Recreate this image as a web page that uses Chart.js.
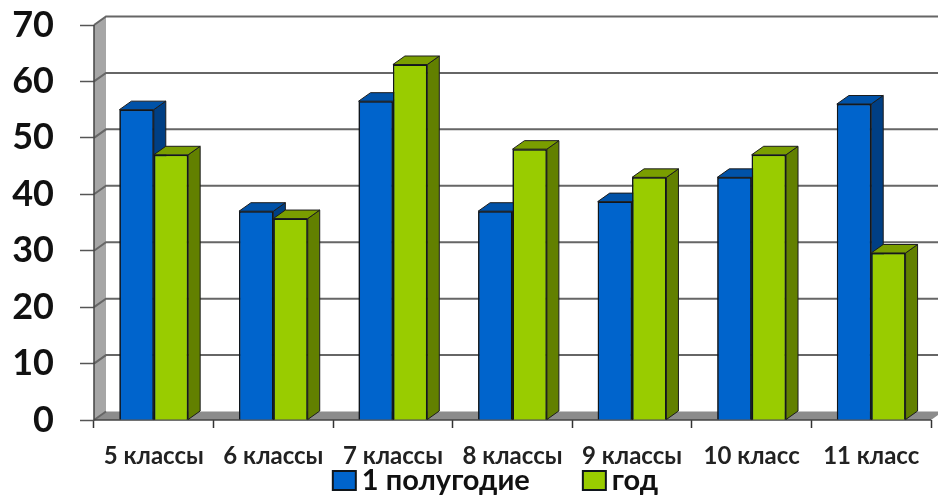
<!DOCTYPE html>
<html>
<head>
<meta charset="utf-8">
<style>
  html, body { margin: 0; padding: 0; background: #fff; }
  #wrap { width: 938px; height: 495px; }
</style>
<script src="https://cdn.jsdelivr.net/npm/chart.js@4"></script>
</head>
<body>
<div id="wrap"><canvas id="chart" width="938" height="495"></canvas></div>
<script>
const categories = ['5 классы', '6 классы', '7 классы', '8 классы', '9 классы', '10 класс', '11 класс'];
const halfYear = [55, 37, 56.5, 37, 38.7, 43, 56];
const fullYear = [47, 35.7, 63, 48, 43, 47, 29.6];
const yTicks = [0, 10, 20, 30, 40, 50, 60, 70];

// depth of the fake 3d box
const DX = 12;
const DY = 8.5;
const LEGEND_GAP = 53;

function poly(ctx, pts, fill, stroke) {
    ctx.beginPath();
    pts.forEach((p, i) => i ? ctx.lineTo(p[0], p[1]) : ctx.moveTo(p[0], p[1]));
    ctx.closePath();
    ctx.fillStyle = fill;
    ctx.fill();
    if (stroke) {
        ctx.strokeStyle = stroke;
        ctx.lineWidth = 1;
        ctx.stroke();
    }
}

const box3d = {
    id: 'box3d',
    // legend padding is also the gap between items, so keep its box short
    beforeLayout(chart) {
        const lg = chart.legend;
        if (lg.fitWrapped) return;
        const fit = lg.fit;
        lg.fit = function () {
            fit.call(this);
            this.height = 27;
        };
        lg.fitWrapped = true;
    },
    afterLayout(chart) {
        const lg = chart.legend;
        lg.top -= LEGEND_GAP + 2;
        lg.left += 30;
        lg.right += 30;
    },
    // walls, floor and grid behind the bars
    beforeDatasetsDraw(chart) {
        const { ctx, chartArea: a, scales: { y } } = chart;
        ctx.save();
        poly(ctx, [[a.left, a.top], [a.left + DX, a.top - DY], [a.left + DX, a.bottom - DY], [a.left, a.bottom]], '#a6a6a6');
        poly(ctx, [[a.left, a.bottom], [a.left + DX, a.bottom - DY], [a.right + DX, a.bottom - DY], [a.right, a.bottom]], '#8c8c8c');
        ctx.strokeStyle = '#666';
        ctx.lineWidth = 2;
        yTicks.forEach(v => {
            const py = y.getPixelForValue(v);
            ctx.beginPath();
            ctx.moveTo(a.left, py);
            ctx.lineTo(a.left + DX, py - DY);
            if (v > 0) ctx.lineTo(chart.width, py - DY);
            ctx.stroke();
        });
        ctx.lineWidth = 1.5;
        ctx.strokeStyle = '#444';
        ctx.beginPath();
        ctx.moveTo(a.left, a.top);
        ctx.lineTo(a.left, a.bottom);
        ctx.lineTo(a.right, a.bottom);
        ctx.stroke();
        ctx.restore();
    },
    // chart.js paints the first dataset last, redo them front to back with the faces
    afterDatasetsDraw(chart) {
        const { ctx } = chart;
        ctx.save();
        chart.data.datasets.forEach((ds, i) => {
            const bars = chart.getDatasetMeta(i).data;
            bars.forEach(bar => bar.draw(ctx));
            bars.forEach(bar => {
                const l = bar.x - bar.width / 2;
                const r = bar.x + bar.width / 2;
                poly(ctx, [[r, bar.y], [r + DX, bar.y - DY], [r + DX, bar.base - DY], [r, bar.base]], ds.sideColor, '#1c1c1c');
                poly(ctx, [[l, bar.y], [l + DX, bar.y - DY], [r + DX, bar.y - DY], [r, bar.y]], ds.topColor, '#1c1c1c');
            });
        });
        ctx.restore();
    },
    // the library ties the box-to-text gap to the font size, so widen the swatches here
    afterDraw(chart) {
        const { ctx, legend } = chart;
        ctx.save();
        ctx.lineWidth = 2;
        ctx.strokeStyle = '#10161c';
        legend.legendItems.forEach((item, i) => {
            const hit = legend.legendHitBoxes[i];
            ctx.fillStyle = item.fillStyle;
            ctx.fillRect(hit.left, hit.top + 5, 23, 19);
            ctx.strokeRect(hit.left, hit.top + 5, 23, 19);
        });
        ctx.restore();
    }
};

new Chart(document.getElementById('chart'), {
    type: 'bar',
    data: {
        labels: categories,
        datasets: [
            {
                label: '1 полугодие',
                data: halfYear,
                backgroundColor: '#0064cc',
                sideColor: '#003f84',
                topColor: '#0052a8',
                borderColor: '#10161c',
                borderWidth: 1.5
            },
            {
                label: 'год',
                data: fullYear,
                backgroundColor: '#99cc00',
                sideColor: '#628000',
                topColor: '#7a9e00',
                borderColor: '#10161c',
                borderWidth: 1.5
            }
        ]
    },
    options: {
        responsive: false,
        animation: false,
        layout: { padding: { top: 25, right: 7, left: 0, bottom: 0 } },
        datasets: { bar: { categoryPercentage: 0.575, barPercentage: 1 } },
        scales: {
            x: {
                afterFit(scale) { scale.height = 48; },
                grid: { drawOnChartArea: false, tickLength: 8, color: '#333', tickWidth: 1.5 },
                border: { display: false },
                ticks: {
                    color: '#222',
                    padding: 14,
                    maxRotation: 0,
                    font: { family: 'Lato', weight: 'bold', size: 24 }
                }
            },
            y: {
                min: 0,
                max: 70,
                afterFit(scale) {
                    scale.width = 94;
                    // tick padding leaks into the vertical margins otherwise
                    scale.paddingTop = 0;
                    scale.paddingBottom = 0;
                },
                grid: { drawOnChartArea: false, tickLength: 14, color: '#555', tickWidth: 1.5 },
                border: { display: false },
                ticks: {
                    stepSize: 10,
                    color: '#111',
                    padding: 26,
                    font: { family: 'Lato', weight: 'bold', size: 36 }
                }
            }
        },
        plugins: {
            legend: {
                position: 'bottom',
                labels: {
                    color: '#111',
                    boxWidth: 14.5,
                    boxHeight: 14,
                    padding: LEGEND_GAP,
                    font: { family: 'Lato', weight: 'bold', size: 29 }
                }
            },
            tooltip: { enabled: false }
        }
    },
    plugins: [box3d]
});
</script>
</body>
</html>
